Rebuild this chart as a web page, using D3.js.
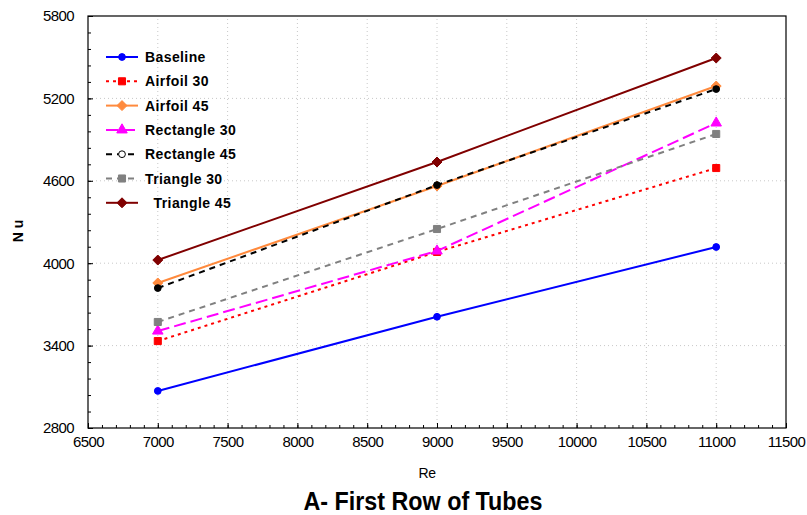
<!DOCTYPE html>
<html>
<head>
<meta charset="utf-8">
<script src="https://cdn.jsdelivr.net/npm/d3@7"></script>
<style>
	body { margin: 0; background: #fff; }
	svg text { font-family: "Liberation Sans", Arial, sans-serif; }
</style>
</head>
<body>
<div id="chart"></div>
<script>
// Reynolds numbers on x
var reValues = [7000, 9000, 11000];

// Nu values per configuration
var baseline = [3070, 3610, 4118];
var airfoil30 = [3433, 4082, 4693];
var airfoil45 = [3856, 4562, 5290];
var rectangle30 = [3506, 4089, 5021];
var rectangle45 = [3819, 4569, 5268];
var triangle30 = [3572, 4249, 4941];
var triangle45 = [4023, 4737, 5494];

var xTicks = [6500, 7000, 7500, 8000, 8500, 9000, 9500, 10000, 10500, 11000, 11500];
var yTicks = [2800, 3400, 4000, 4600, 5200, 5800];

var series = [
	{ name: "Baseline", values: baseline, color: "#0000ff", dash: null, marker: "circle" },
	{ name: "Airfoil 30", values: airfoil30, color: "#ff0000", dash: "3,4", marker: "square" },
	{ name: "Airfoil 45", values: airfoil45, color: "#ff8a3d", dash: null, marker: "diamond" },
	{ name: "Rectangle 30", values: rectangle30, color: "#ff00ff", dash: "12,5", marker: "triangle" },
	{ name: "Rectangle 45", values: rectangle45, color: "#000000", dash: "6,5", marker: "circle", hollowLegend: true },
	{ name: "Triangle 30", values: triangle30, color: "#808080", dash: "6,5", marker: "square" },
	{ name: "  Triangle 45", values: triangle45, color: "#800000", dash: null, marker: "diamond" }
];

var width = 807, height = 515;
var margin = { left: 88, top: 16, right: 21, bottom: 87 };

var svg = d3.select("#chart").append("svg")
	.attr("width", width)
	.attr("height", height);

var x = d3.scaleLinear().domain([6500, 11500]).range([margin.left, width - margin.right]);
var y = d3.scaleLinear().domain([2800, 5800]).range([height - margin.bottom, margin.top]);

// dotted grid
var grid = svg.append("g").attr("class", "grid");
grid.selectAll("line.vx").data(xTicks.slice(1, -1)).enter().append("line")
	.attr("x1", function(d) { return x(d); }).attr("x2", function(d) { return x(d); })
	.attr("y1", y(2800)).attr("y2", y(5800))
	.attr("stroke", "#c8c8c8").attr("stroke-dasharray", "1,3");
grid.selectAll("line.hy").data(yTicks.slice(1, -1)).enter().append("line")
	.attr("x1", x(6500)).attr("x2", x(11500))
	.attr("y1", function(d) { return y(d); }).attr("y2", function(d) { return y(d); })
	.attr("stroke", "#c8c8c8").attr("stroke-dasharray", "1,3");

// axes, ticks pointing inward
var xMinor = d3.range(6500, 11501, 100);
var yMinor = d3.range(2800, 5801, 120);

var xAxis = svg.append("g").attr("transform", "translate(0," + y(2800) + ")")
	.call(d3.axisTop(x).tickValues(xMinor).tickSize(3).tickFormat(""));
xAxis.select(".domain").remove();
var xAxisMajor = svg.append("g").attr("transform", "translate(0," + y(2800) + ")")
	.call(d3.axisBottom(x).tickValues(xTicks).tickSize(0).tickPadding(8).tickFormat(d3.format("d")));
xAxisMajor.select(".domain").remove();
xAxisMajor.selectAll("text").attr("font-size", 15).attr("fill", "#000").style("letter-spacing", "-0.6px");
svg.append("g").attr("transform", "translate(0," + y(2800) + ")")
	.call(d3.axisTop(x).tickValues(xTicks).tickSize(5).tickFormat(""))
	.select(".domain").remove();

var yAxis = svg.append("g").attr("transform", "translate(" + x(6500) + ",0)")
	.call(d3.axisRight(y).tickValues(yMinor).tickSize(3).tickFormat(""));
yAxis.select(".domain").remove();
var yAxisMajor = svg.append("g").attr("transform", "translate(" + x(6500) + ",0)")
	.call(d3.axisLeft(y).tickValues(yTicks).tickSize(0).tickPadding(14).tickFormat(d3.format("d")));
yAxisMajor.select(".domain").remove();
yAxisMajor.selectAll("text").attr("font-size", 15).attr("fill", "#000").style("letter-spacing", "-0.6px");
svg.append("g").attr("transform", "translate(" + x(6500) + ",0)")
	.call(d3.axisRight(y).tickValues(yTicks).tickSize(5).tickFormat(""))
	.select(".domain").remove();

svg.selectAll(".tick line").attr("stroke", "#000");

// frame
svg.append("rect")
	.attr("x", x(6500)).attr("y", y(5800))
	.attr("width", x(11500) - x(6500)).attr("height", y(2800) - y(5800))
	.attr("fill", "none").attr("stroke", "#000").attr("stroke-width", 1.2);

var line = d3.line()
	.x(function(d) { return x(d[0]); })
	.y(function(d) { return y(d[1]); });

// diamond as a rotated square, like the original
var squareDiamond = {
	draw: function(context, size) {
		var r = Math.sqrt(size / 2);
		context.moveTo(0, -r);
		context.lineTo(r, 0);
		context.lineTo(0, r);
		context.lineTo(-r, 0);
		context.closePath();
	}
};

var symbolOf = {
	circle: d3.symbolCircle,
	square: d3.symbolSquare,
	diamond: squareDiamond,
	triangle: d3.symbolTriangle
};
var sizeOf = { circle: 36, square: 50, diamond: 50, triangle: 48 };

function drawMarker(g, s, cx, cy, legend) {
	var hollow = legend && s.hollowLegend;
	g.append("path")
		.attr("d", d3.symbol().type(symbolOf[s.marker]).size(sizeOf[s.marker]))
		.attr("transform", "translate(" + cx + "," + cy + ")")
		.attr("fill", hollow ? "#fff" : s.color)
		.attr("stroke", s.color)
		.attr("stroke-width", 1);
}

var plot = svg.append("g");
series.forEach(function(s) {
	var pts = reValues.map(function(r, i) { return [r, s.values[i]]; });
	plot.append("path")
		.datum(pts)
		.attr("d", line)
		.attr("fill", "none")
		.attr("stroke", s.color)
		.attr("stroke-width", 2)
		.attr("stroke-dasharray", s.dash);
	pts.forEach(function(p) {
		drawMarker(plot, s, x(p[0]), y(p[1]), false);
	});
});

// legend
var legend = svg.append("g").attr("transform", "translate(106,57)");
series.forEach(function(s, i) {
	var row = legend.append("g").attr("transform", "translate(0," + (i * 24.3) + ")");
	row.append("line")
		.attr("x1", 0).attr("x2", 32).attr("y1", 0).attr("y2", 0)
		.attr("stroke", s.color).attr("stroke-width", 2)
		.attr("stroke-dasharray", s.dash);
	drawMarker(row, s, 16, 0, true);
	row.append("text")
		.attr("x", 39).attr("y", 5)
		.attr("font-size", 14).attr("font-weight", "bold")
		.style("letter-spacing", "0.4px")
		.style("white-space", "pre")
		.text(s.name);
});

// axis titles
svg.append("text")
	.attr("x", 427).attr("y", 478)
	.attr("text-anchor", "middle").attr("font-size", 14)
	.style("letter-spacing", "-0.5px")
	.text("Re");

svg.append("text")
	.attr("transform", "translate(23,231) rotate(-90)")
	.attr("text-anchor", "middle").attr("font-size", 14).attr("font-weight", "bold")
	.style("white-space", "pre")
	.text("N u");

svg.append("text")
	.attr("x", 423).attr("y", 510)
	.attr("text-anchor", "middle").attr("font-size", 26).attr("font-weight", "bold")
	.attr("textLength", 239).attr("lengthAdjust", "spacingAndGlyphs")
	.text("A- First Row of Tubes");
</script>
</body>
</html>
